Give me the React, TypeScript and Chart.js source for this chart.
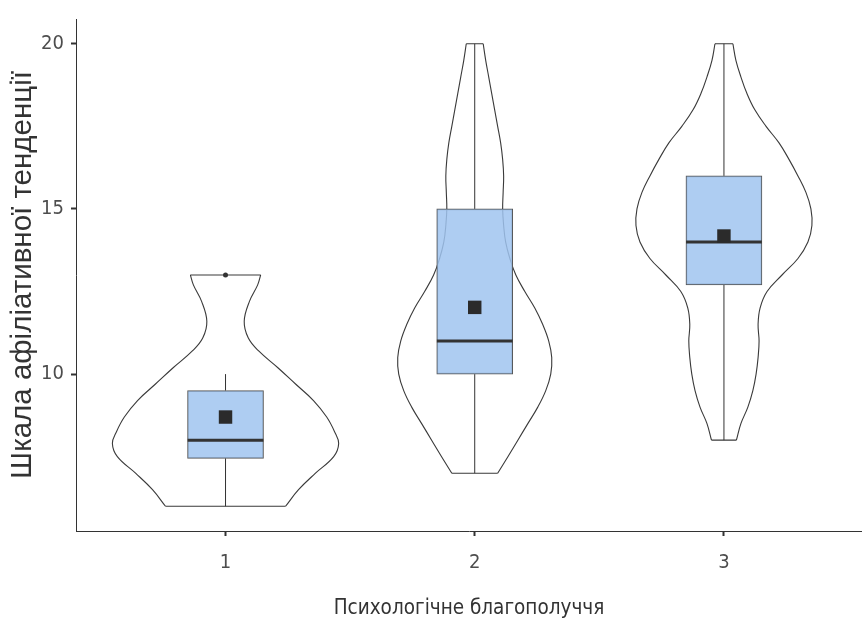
import React, { useEffect, useRef } from "react";
import { Chart, registerables } from "chart.js";

Chart.register(...registerables);

// ---- data ----
const CATEGORIES = [1, 2, 3];
const X_TICKS = [1, 2, 3];
const Y_TICKS = [10, 15, 20];

// violin outlines: value levels and half-widths (in category units)
const V1_LEVELS = [6.0, 6.5, 7.0, 7.5, 7.9, 8.25, 8.7, 9.2, 9.7, 10.2, 10.7, 11.1, 11.6, 12.2, 12.7, 13.0];
const V1_HALF = [0.241, 0.293, 0.361, 0.434, 0.454, 0.438, 0.406, 0.353, 0.281, 0.209, 0.133, 0.091, 0.075, 0.096, 0.129, 0.141];

const V2_LEVELS = [7.0, 7.5, 8.0, 8.5, 9.0, 9.5, 10.0, 10.5, 11.0, 11.5, 12.0, 12.5, 13.0, 13.5, 14.0, 14.5, 15.0, 15.5, 16.0, 16.5, 17.0, 17.5, 18.0, 18.5, 19.0, 19.5, 20.0];
const V2_HALF = [0.092, 0.133, 0.173, 0.213, 0.253, 0.285, 0.305, 0.309, 0.297, 0.273, 0.241, 0.201, 0.165, 0.141, 0.124, 0.116, 0.112, 0.114, 0.116, 0.112, 0.104, 0.092, 0.08, 0.068, 0.056, 0.044, 0.034];

const V3_LEVELS = [8.0, 8.5, 9.0, 9.5, 10.0, 10.5, 11.0, 11.5, 12.0, 12.5, 13.0, 13.5, 14.0, 14.5, 15.0, 15.5, 16.0, 16.5, 17.0, 17.5, 18.0, 18.5, 19.0, 19.5, 20.0];
const V3_HALF = [0.05, 0.068, 0.096, 0.116, 0.129, 0.137, 0.141, 0.137, 0.145, 0.173, 0.233, 0.297, 0.337, 0.353, 0.349, 0.329, 0.297, 0.261, 0.221, 0.169, 0.124, 0.092, 0.068, 0.048, 0.036];

// box plots
const BOX_Q1 = [7.45, 10, 12.7];
const BOX_MEDIAN = [8, 11, 14];
const BOX_Q3 = [9.5, 15, 16];
const WHISKER_LOW = [6, 7, 8];
const WHISKER_HIGH = [10, 20, 20];
const MEANS = [8.7, 12.02, 14.18];
const OUTLIER_GROUP = [1];
const OUTLIER_VALUE = [13];
const BOX_HALF_WIDTH = 0.152;

const X_TITLE = "Психологічне благополуччя";
const Y_TITLE = "Шкала афіліативної тенденції";

const VIOLINS = [
  { levels: V1_LEVELS, half: V1_HALF },
  { levels: V2_LEVELS, half: V2_HALF },
  { levels: V3_LEVELS, half: V3_HALF },
];

const NARROW = "'Liberation Sans Narrow', 'DejaVu Sans Condensed', 'Arial Narrow', sans-serif";
const SANS = "'Liberation Sans', Arial, sans-serif";

export default function App() {
  const ref = useRef<HTMLCanvasElement | null>(null);

  useEffect(() => {
    document.body.style.margin = "0";
    document.body.style.overflow = "hidden";
    const canvas = ref.current;
    if (!canvas) return;

    const lineBase = {
      type: "line" as const,
      showLine: true,
      pointRadius: 0,
      pointHoverRadius: 0,
      fill: false,
      spanGaps: false,
    };
    const outline = "rgba(35,35,35,0.9)";

    const datasets: any[] = [];

    VIOLINS.forEach((v, gi) => {
      const c = CATEGORIES[gi];
      datasets.push({
        ...lineBase,
        data: v.levels.map((y, i) => ({ x: c + v.half[i], y })),
        borderColor: outline,
        borderWidth: 1.1,
        tension: 0.4,
        order: 10,
      });
      datasets.push({
        ...lineBase,
        data: v.levels.map((y, i) => ({ x: c - v.half[i], y })),
        borderColor: outline,
        borderWidth: 1.1,
        tension: 0.4,
        order: 10,
      });
    });

    // violin caps (top & bottom flat edges)
    const caps: any[] = [];
    VIOLINS.forEach((v, gi) => {
      const c = CATEGORIES[gi];
      const n = v.levels.length - 1;
      caps.push({ x: c - v.half[0], y: v.levels[0] }, { x: c + v.half[0], y: v.levels[0] }, { x: c, y: null });
      caps.push({ x: c - v.half[n], y: v.levels[n] }, { x: c + v.half[n], y: v.levels[n] }, { x: c, y: null });
    });
    datasets.push({
      ...lineBase,
      data: caps,
      borderColor: outline,
      borderWidth: 1.1,
      tension: 0,
      order: 10,
    });

    // whiskers
    const whiskers: any[] = [];
    CATEGORIES.forEach((c, i) => {
      whiskers.push({ x: c, y: WHISKER_LOW[i] }, { x: c, y: BOX_Q1[i] }, { x: c, y: null });
      whiskers.push({ x: c, y: BOX_Q3[i] }, { x: c, y: WHISKER_HIGH[i] }, { x: c, y: null });
    });
    datasets.push({
      ...lineBase,
      data: whiskers,
      borderColor: "#333333",
      borderWidth: 1,
      tension: 0,
      order: 9,
    });

    // boxes
    datasets.push({
      type: "bar",
      data: CATEGORIES.map((c, i) => ({ x: c, y: [BOX_Q1[i], BOX_Q3[i]] })),
      backgroundColor: "rgba(160,196,240,0.85)",
      borderColor: "#555555",
      borderWidth: 1,
      borderSkipped: false,
      barThickness: 76,
      order: 5,
    });

    // medians
    const medians: any[] = [];
    CATEGORIES.forEach((c, i) => {
      medians.push({ x: c - BOX_HALF_WIDTH, y: BOX_MEDIAN[i] }, { x: c + BOX_HALF_WIDTH, y: BOX_MEDIAN[i] }, { x: c, y: null });
    });
    datasets.push({
      ...lineBase,
      data: medians,
      borderColor: "#333333",
      borderWidth: 3,
      tension: 0,
      order: 3,
    });

    // outliers
    datasets.push({
      type: "scatter",
      data: OUTLIER_GROUP.map((g, i) => ({ x: g, y: OUTLIER_VALUE[i] })),
      pointStyle: "circle",
      pointRadius: 2.5,
      backgroundColor: "#333333",
      borderWidth: 0,
      order: 2,
    });

    // means
    datasets.push({
      type: "scatter",
      data: CATEGORIES.map((c, i) => ({ x: c, y: MEANS[i] })),
      pointStyle: "rect",
      pointRadius: 9.5,
      backgroundColor: "#2b2b2b",
      borderWidth: 0,
      order: 1,
    });

    const makeGrid = () => ({
      display: true,
      offset: false,
      drawOnChartArea: false,
      drawTicks: true,
      tickLength: 5,
      tickColor: "#333333",
      tickWidth: 2,
      color: "#333333",
      lineWidth: 1,
    });

    const chart = new Chart(canvas, {
      type: "scatter",
      data: { datasets },
      options: {
        animation: false,
        responsive: false,
        maintainAspectRatio: false,
        devicePixelRatio: 1,
        layout: { autoPadding: false, padding: { top: 15, left: 0, right: 0, bottom: 0 } },
        plugins: { legend: { display: false }, tooltip: { enabled: false } },
        scales: {
          x: {
            type: "linear",
            min: 0.4,
            max: 3.554,
            offset: false,
            afterBuildTicks: (s: any) => {
              s.ticks = X_TICKS.map((v) => ({ value: v }));
            },
            afterFit: (s: any) => {
              s.height = 91;
              s.paddingLeft = 0;
              s.paddingRight = 0;
            },
            grid: makeGrid(),
            border: { display: true, color: "#333333", width: 1 },
            ticks: {
              padding: 15,
              color: "#4d4d4d",
              font: { family: NARROW, size: 20 },
              callback: (v: any) => String(v),
              maxRotation: 0,
            },
            title: {
              display: true,
              text: X_TITLE,
              color: "#333333",
              font: { family: NARROW, size: 20.5, lineHeight: 1 },
              padding: { top: 0, bottom: 3 },
            },
          },
          y: {
            type: "linear",
            min: 5.25,
            max: 20.75,
            afterBuildTicks: (s: any) => {
              s.ticks = Y_TICKS.map((v) => ({ value: v }));
            },
            afterFit: (s: any) => {
              s.width = 76;
            },
            grid: makeGrid(),
            border: { display: true, color: "#333333", width: 1 },
            ticks: {
              padding: 7,
              color: "#4d4d4d",
              font: { family: NARROW, size: 20 },
              callback: (v: any) => String(v),
            },
            title: {
              display: true,
              text: Y_TITLE,
              color: "#333333",
              font: { family: SANS, size: 29.5, lineHeight: 1 },
              padding: { top: 8, bottom: 0 },
            },
          },
        },
      },
    });

    return () => chart.destroy();
  }, []);

  return (
    <div style={{ width: 862, height: 622, position: "relative", overflow: "hidden" }}>
      <canvas ref={ref} width={862} height={622} style={{ display: "block", width: 862, height: 622 }} />
    </div>
  );
}
